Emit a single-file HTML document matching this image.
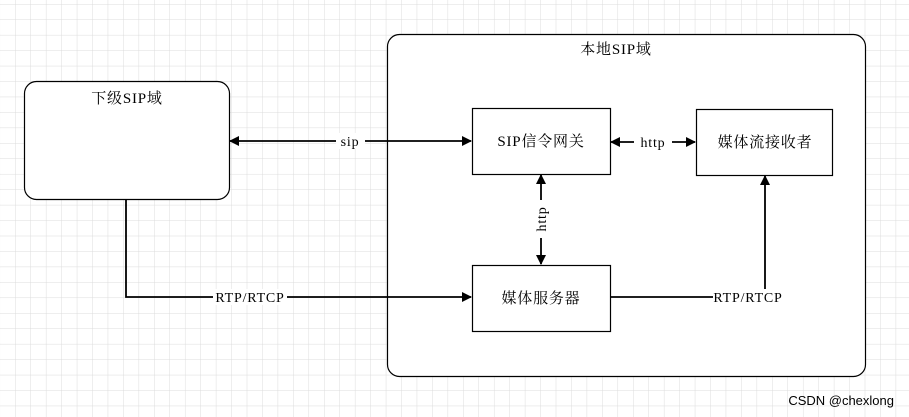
<!DOCTYPE html>
<html><head><meta charset="utf-8"><style>
html,body{margin:0;padding:0;}
body{width:909px;height:417px;overflow:hidden;background:#fff;}
svg{display:block;}
text{font-family:"Liberation Serif","Noto Serif CJK SC",serif;fill:#000;letter-spacing:0.8px;}
</style></head><body>
<svg width="909" height="417" xmlns="http://www.w3.org/2000/svg">
<defs>
<pattern id="g" x="15" y="4" width="15.45" height="15.45" patternUnits="userSpaceOnUse">
<path d="M0 0H15.45M0 0V15.45" stroke="#dcdcdc" stroke-width="1" fill="none"/>
</pattern>
<marker id="a" viewBox="0 0 10 10" refX="9" refY="5" markerWidth="10" markerHeight="10" markerUnits="userSpaceOnUse" orient="auto-start-reverse">
<path d="M0 0L10 5L0 10Z" fill="#000"/>
</marker>
</defs>
<rect width="909" height="417" fill="url(#g)"/>
<rect x="387.5" y="34.5" width="478" height="342" rx="12" fill="#fff" stroke="#000" stroke-width="1.2"/>
<text x="616" y="54" font-size="15" text-anchor="middle">本地SIP域</text>
<rect x="24.5" y="81.5" width="205" height="118" rx="12" fill="#fff" stroke="#000" stroke-width="1.2"/>
<text x="127" y="103" font-size="15" text-anchor="middle">下级SIP域</text>
<rect x="472.5" y="108.5" width="138" height="66" fill="#fff" stroke="#000" stroke-width="1.2"/>
<text x="541" y="146" font-size="15" text-anchor="middle">SIP信令网关</text>
<rect x="696.5" y="109.5" width="136" height="66" fill="#fff" stroke="#000" stroke-width="1.2"/>
<text x="765" y="147" font-size="15" text-anchor="middle">媒体流接收者</text>
<rect x="472.5" y="265.5" width="138" height="66" fill="#fff" stroke="#000" stroke-width="1.2"/>
<text x="541" y="303" font-size="15" text-anchor="middle">媒体服务器</text>
<g stroke="#000" stroke-width="1.8" fill="none">
<line x1="230" y1="141" x2="471" y2="141" marker-start="url(#a)" marker-end="url(#a)"/>
<line x1="611" y1="142" x2="695" y2="142" marker-start="url(#a)" marker-end="url(#a)"/>
<line x1="541" y1="175" x2="541" y2="264" marker-start="url(#a)" marker-end="url(#a)"/>
<polyline points="126,200 126,297 471,297" marker-end="url(#a)"/>
<polyline points="611,297 765,297 765,176" marker-end="url(#a)"/>
</g>
<rect x="336" y="133" width="29" height="16" fill="#fff"/>
<text x="350" y="146" font-size="14" text-anchor="middle" fill="#333">sip</text>
<rect x="634" y="134" width="38" height="16" fill="#fff"/>
<text x="653" y="147" font-size="14" text-anchor="middle" fill="#333">http</text>
<rect x="533" y="200" width="16" height="38" fill="#fff"/>
<text x="0" y="0" font-size="14" text-anchor="middle" transform="translate(546,219) rotate(-90)">http</text>
<rect x="213" y="289" width="74" height="16" fill="#fff"/>
<text x="250" y="302" font-size="14" text-anchor="middle">RTP/RTCP</text>
<rect x="713" y="289" width="71" height="16" fill="#fff"/>
<text x="748" y="302" font-size="14" text-anchor="middle">RTP/RTCP</text>
<text x="894" y="405" font-size="13" text-anchor="end" fill="#aaa" style="font-family:'Liberation Sans',sans-serif;letter-spacing:0">CSDN @chexlong</text>
</svg>
</body></html>
